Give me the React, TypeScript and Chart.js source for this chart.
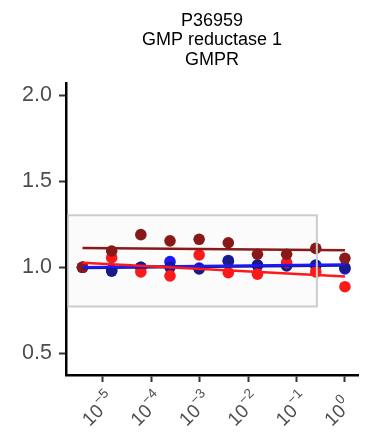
import React, { useEffect, useRef } from "react";
import { Chart, registerables } from "chart.js";

Chart.register(...registerables);

const titleLines = ["P36959", "GMP reductase 1", "GMPR"];

// 4-fold dilution series (x)
const doses = [1, 0.25, 0.0625, 0.015625, 0.00390625, 0.0009765625, 0.000244140625, 0.00006103515625, 0.0000152587890625, 0.000003814697265625];

const darkRedValues = [1.052, 1.11, 1.076, 1.076, 1.143, 1.163, 1.154, 1.19, 1.095, 1.0];
const redValues = [0.887, 0.973, 1.027, 0.96, 0.969, 1.072, 0.95, 0.973, 1.056, 1.0];
const blueValues = [0.99, 1.013, 1.017, 1.013, 1.04, 0.995, 1.033, 1.0, 0.985, 1.0];
const navyValues = [0.998, 1.01, 1.008, 1.013, 1.035, 0.99, 1.0, 1.0, 0.978, 1.0];

// fitted line ends (at the lowest and the highest dose)
const fitDoses = [0.000003814697265625, 1];
const darkRedFit = [1.113, 1.1];
const redFit = [1.027, 0.946];
const blueFit = [1.0, 1.016];
const navyFit = [0.996, 1.01];

// grey box
const boxX = [0.0000019, 0.263];
const boxY = [0.772, 1.303];

const xTickValues = [1e-5, 1e-4, 1e-3, 1e-2, 1e-1, 1];
const xTickExponents = ["\u22125", "\u22124", "\u22123", "\u22122", "\u22121", "0"];
const yTickValues = [0.5, 1.0, 1.5, 2.0];

const xMin = Math.pow(10, -5.76);
const xMax = Math.pow(10, 0.27);
const yMin = 0.373;
const yMax = 2.073;

const COL_DARKRED = "#8b1a1a";
const COL_RED = "#ff1a1a";
const COL_BLUE = "#1a1aff";
const COL_NAVY = "#1a1a8b";

const FONT = '"Liberation Sans", Arial, Helvetica, sans-serif';

function pts(vals: number[], xs: number[]) {
  return vals.map((v, i) => ({ x: xs[i], y: v }));
}

export default function App() {
  const ref = useRef<HTMLCanvasElement>(null);

  useEffect(() => {
    const canvas = ref.current;
    if (!canvas) return;

    const boxPlugin = {
      id: "greyBox",
      afterDatasetsDraw(chart: any) {
        const { ctx, chartArea } = chart;
        const xs = chart.scales.x;
        const ys = chart.scales.y;
        const x1 = xs.getPixelForValue(boxX[0]);
        const x2 = xs.getPixelForValue(boxX[1]);
        const y1 = ys.getPixelForValue(boxY[1]);
        const y2 = ys.getPixelForValue(boxY[0]);
        ctx.save();
        ctx.beginPath();
        ctx.rect(chartArea.left + 1.3, chartArea.top, chartArea.right - chartArea.left, chartArea.bottom - chartArea.top);
        ctx.clip();
        ctx.fillStyle = "rgba(0,0,0,0.015)";
        ctx.fillRect(x1, y1, x2 - x1, y2 - y1);
        ctx.strokeStyle = "#cccccc";
        ctx.lineWidth = 2;
        ctx.strokeRect(x1, y1, x2 - x1, y2 - y1);
        ctx.restore();
      },
    };

    const textPlugin = {
      id: "texts",
      afterDraw(chart: any) {
        const { ctx, chartArea } = chart;
        const xs = chart.scales.x;
        ctx.save();
        // title
        ctx.fillStyle = "#000";
        ctx.font = `18px ${FONT}`;
        ctx.textAlign = "center";
        ctx.textBaseline = "alphabetic";
        const cx = (chartArea.left + chartArea.right) / 2;
        titleLines.forEach((t, i) => {
          ctx.fillText(t, cx, 25.5 + i * 19.7);
        });
        // x tick labels (10^n, rotated 45 degrees)
        ctx.fillStyle = "#4d4d4d";
        xTickValues.forEach((v, i) => {
          const px = xs.getPixelForValue(v);
          ctx.save();
          ctx.translate(px + 2, chartArea.bottom + 37);
          ctx.rotate(-Math.PI / 4);
          ctx.textAlign = "left";
          ctx.textBaseline = "alphabetic";
          ctx.font = `19px ${FONT}`;
          const wb = ctx.measureText("10").width;
          ctx.fillText("10", -wb, 0);
          ctx.font = `13.5px ${FONT}`;
          ctx.fillText(xTickExponents[i], 0.5, -9.5);
          ctx.restore();
        });
        ctx.restore();
      },
    };

    const lineDs = (data: number[], color: string) => ({
      type: "line" as const,
      data: pts(data, fitDoses),
      borderColor: color,
      borderWidth: 2.5,
      pointRadius: 0,
      fill: false,
      tension: 0,
    });
    const pointDs = (data: number[], color: string) => ({
      type: "scatter" as const,
      data: pts(data, doses),
      backgroundColor: color,
      borderColor: color,
      borderWidth: 0,
      pointRadius: 5.8,
      pointHoverRadius: 5.8,
    });

    const chart = new Chart(canvas, {
      type: "scatter",
      data: {
        datasets: [
          lineDs(darkRedFit, COL_DARKRED),
          lineDs(redFit, COL_RED),
          lineDs(blueFit, COL_BLUE),
          lineDs(navyFit, COL_NAVY),
          pointDs(darkRedValues, COL_DARKRED),
          pointDs(redValues, COL_RED),
          pointDs(navyValues, COL_NAVY),
          pointDs(blueValues, COL_BLUE),
        ] as any,
      },
      options: {
        responsive: false,
        animation: false,
        devicePixelRatio: 1,
        layout: { padding: { top: 83, right: 23, left: 0, bottom: 0 } },
        plugins: {
          legend: { display: false },
          tooltip: { enabled: false },
          title: { display: false },
        },
        scales: {
          x: {
            type: "logarithmic",
            min: xMin,
            max: xMax,
            afterBuildTicks: (s: any) => {
              s.ticks = xTickValues.map((v) => ({ value: v }));
            },
            afterFit: (s: any) => {
              s.height = 62;
            },
            ticks: { display: false },
            grid: {
              display: true,
              drawOnChartArea: false,
              drawTicks: true,
              tickLength: 7,
              tickWidth: 2,
              tickColor: "#333333",
            },
            border: { display: true, color: "#000000", width: 2.5 },
          },
          y: {
            type: "linear",
            min: yMin,
            max: yMax,
            afterBuildTicks: (s: any) => {
              s.ticks = yTickValues.map((v) => ({ value: v }));
            },
            afterFit: (s: any) => {
              s.width = 66;
            },
            ticks: {
              callback: (v: any) => Number(v).toFixed(1),
              color: "#4d4d4d",
              font: { family: FONT, size: 21.5 },
              padding: 7,
            },
            grid: {
              display: true,
              drawOnChartArea: false,
              drawTicks: true,
              tickLength: 7,
              tickWidth: 2,
              tickColor: "#333333",
            },
            border: { display: true, color: "#000000", width: 2.5 },
          },
        },
      },
      plugins: [boxPlugin, textPlugin],
    });

    return () => chart.destroy();
  }, []);

  return (
    <div style={{ position: "fixed", left: 0, top: 0, width: 381, height: 437, background: "#ffffff" }}>
      <canvas ref={ref} width={381} height={437} style={{ display: "block", width: 381, height: 437 }} />
    </div>
  );
}
